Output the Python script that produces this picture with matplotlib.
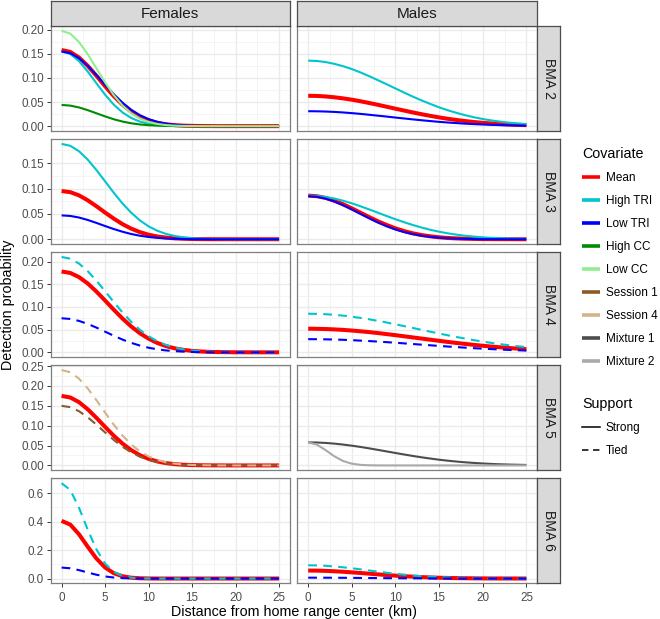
import matplotlib
matplotlib.use("Agg")
import matplotlib.pyplot as plt
from matplotlib.lines import Line2D
from matplotlib.ticker import MultipleLocator

plt.rcParams['font.family'] = ['Liberation Sans', 'DejaVu Sans']

# ---------------- data ----------------
DIST = list(range(26))  # km from home range center
SEXES = ['Females', 'Males']
BMAS = ['BMA 2', 'BMA 3', 'BMA 4', 'BMA 5', 'BMA 6']
COVARIATES = ['Mean', 'High TRI', 'Low TRI', 'High CC', 'Low CC',
              'Session 1', 'Session 4', 'Mixture 1', 'Mixture 2']
SUPPORTS = ['Strong', 'Tied']
X_TICKS = [0, 5, 10, 15, 20, 25]
Y_TICKS = [[0.00, 0.05, 0.10, 0.15, 0.20],
           [0.00, 0.05, 0.10, 0.15],
           [0.00, 0.05, 0.10, 0.15, 0.20],
           [0.00, 0.05, 0.10, 0.15, 0.20, 0.25],
           [0.0, 0.2, 0.4, 0.6]]
Y_TICK_LABELS = [['0.00', '0.05', '0.10', '0.15', '0.20'],
                 ['0.00', '0.05', '0.10', '0.15'],
                 ['0.00', '0.05', '0.10', '0.15', '0.20'],
                 ['0.00', '0.05', '0.10', '0.15', '0.20', '0.25'],
                 ['0.0', '0.2', '0.4', '0.6']]

# BMA 2
F2_MEAN = [0.158, 0.1541, 0.1425, 0.1253, 0.1046, 0.0828, 0.0624, 0.0446, 0.0302, 0.0194, 0.0119, 0.0069, 0.0038,
           0.0020, 0.0010, 0.0005, 0.0002, 0.0001, 0, 0, 0, 0, 0, 0, 0, 0]
F2_HIGH_TRI = [0.155, 0.1497, 0.1350, 0.1135, 0.0891, 0.0653, 0.0446, 0.0284, 0.0169, 0.0094, 0.0049, 0.0023, 0.0011,
               0.0004, 0.0002, 0.0001, 0, 0, 0, 0, 0, 0, 0, 0, 0, 0]
F2_LOW_TRI = [0.155, 0.1514, 0.1411, 0.1252, 0.1062, 0.0859, 0.0662, 0.0487, 0.0341, 0.0228, 0.0146, 0.0089, 0.0052,
              0.0029, 0.0015, 0.0008, 0.0004, 0.0002, 0.0001, 0, 0, 0, 0, 0, 0, 0]
F2_HIGH_CC = [0.044, 0.0426, 0.0388, 0.0332, 0.0267, 0.0202, 0.0143, 0.0095, 0.0059, 0.0035, 0.0019, 0.0010, 0.0005,
              0.0002, 0.0001, 0, 0, 0, 0, 0, 0, 0, 0, 0, 0, 0]
F2_LOW_CC = [0.198, 0.1919, 0.1746, 0.1495, 0.1202, 0.0907, 0.0644, 0.0428, 0.0267, 0.0158, 0.0087, 0.0045, 0.0022,
             0.0010, 0.0004, 0.0002, 0.0001, 0, 0, 0, 0, 0, 0, 0, 0, 0]
M2_MEAN = [0.063, 0.0627, 0.0616, 0.0599, 0.0576, 0.0549, 0.0516, 0.0480, 0.0442, 0.0402, 0.0362, 0.0323, 0.0284,
           0.0247, 0.0213, 0.0181, 0.0152, 0.0127, 0.0105, 0.0085, 0.0069, 0.0055, 0.0043, 0.0034, 0.0026, 0.0020]
M2_HIGH_TRI = [0.136, 0.1353, 0.1330, 0.1293, 0.1244, 0.1185, 0.1114, 0.1036, 0.0953, 0.0868, 0.0782, 0.0696, 0.0612,
               0.0533, 0.0460, 0.0390, 0.0329, 0.0275, 0.0226, 0.0184, 0.0148, 0.0118, 0.0093, 0.0072, 0.0056, 0.0043]
M2_LOW_TRI = [0.031, 0.0308, 0.0303, 0.0295, 0.0284, 0.0270, 0.0254, 0.0236, 0.0217, 0.0198, 0.0178, 0.0159, 0.0140,
              0.0122, 0.0105, 0.0089, 0.0075, 0.0063, 0.0051, 0.0042, 0.0034, 0.0027, 0.0021, 0.0017, 0.0013, 0.0010]
# BMA 3
F3_MEAN = [0.095, 0.0928, 0.0865, 0.0768, 0.0651, 0.0526, 0.0406, 0.0298, 0.0209, 0.0140, 0.0089, 0.0054, 0.0032,
           0.0017, 0.0009, 0.0005, 0.0002, 0.0001, 0, 0, 0, 0, 0, 0, 0, 0]
F3_HIGH_TRI = [0.188, 0.1842, 0.1735, 0.1570, 0.1365, 0.1141, 0.0916, 0.0705, 0.0523, 0.0372, 0.0254, 0.0167, 0.0105,
               0.0064, 0.0037, 0.0021, 0.0011, 0.0006, 0.0003, 0.0001, 0.0001, 0, 0, 0, 0, 0]
F3_LOW_TRI = [0.047, 0.0459, 0.0428, 0.0380, 0.0322, 0.0260, 0.0201, 0.0148, 0.0103, 0.0069, 0.0044, 0.0027, 0.0016,
              0.0009, 0.0005, 0.0002, 0.0001, 0, 0, 0, 0, 0, 0, 0, 0, 0]
M3_MEAN = [0.086, 0.0848, 0.0814, 0.0759, 0.0689, 0.0608, 0.0522, 0.0435, 0.0353, 0.0280, 0.0214, 0.0160, 0.0116,
           0.0082, 0.0057, 0.0038, 0.0025, 0.0016, 0.0010, 0.0006, 0.0003, 0.0002, 0.0001, 0.0001, 0, 0]
M3_HIGH_TRI = [0.086, 0.0853, 0.0833, 0.0802, 0.0759, 0.0708, 0.0649, 0.0587, 0.0522, 0.0457, 0.0394, 0.0335, 0.0280,
               0.0230, 0.0186, 0.0148, 0.0116, 0.0090, 0.0068, 0.0051, 0.0038, 0.0027, 0.0020, 0.0014, 0.0010, 0.0007]
M3_LOW_TRI = [0.085, 0.0837, 0.0801, 0.0744, 0.0670, 0.0587, 0.0498, 0.0411, 0.0328, 0.0255, 0.0192, 0.0141, 0.0100,
              0.0069, 0.0046, 0.0030, 0.0019, 0.0012, 0.0007, 0.0004, 0.0002, 0.0001, 0.0001, 0, 0, 0]
# BMA 4
F4_MEAN = [0.178, 0.1748, 0.1657, 0.1517, 0.1339, 0.1141, 0.0938, 0.0744, 0.0570, 0.0420, 0.0301, 0.0206, 0.0137,
           0.0088, 0.0054, 0.0032, 0.0019, 0.0010, 0.0006, 0.0003, 0.0001, 0.0001, 0, 0, 0, 0]
F4_HIGH_TRI = [0.210, 0.2062, 0.1955, 0.1789, 0.1579, 0.1346, 0.1107, 0.0878, 0.0672, 0.0496, 0.0355, 0.0244, 0.0162,
               0.0104, 0.0064, 0.0038, 0.0022, 0.0012, 0.0007, 0.0003, 0.0002, 0.0001, 0, 0, 0, 0]
F4_LOW_TRI = [0.075, 0.0735, 0.0692, 0.0626, 0.0545, 0.0455, 0.0365, 0.0281, 0.0209, 0.0149, 0.0101, 0.0067, 0.0042,
              0.0026, 0.0015, 0.0008, 0.0004, 0.0002, 0.0001, 0.0001, 0, 0, 0, 0, 0, 0]
M4_MEAN = [0.052, 0.0518, 0.0513, 0.0505, 0.0494, 0.0480, 0.0463, 0.0445, 0.0424, 0.0401, 0.0378, 0.0353, 0.0328,
           0.0303, 0.0278, 0.0253, 0.0229, 0.0206, 0.0185, 0.0164, 0.0145, 0.0127, 0.0111, 0.0096, 0.0082, 0.0070]
M4_HIGH_TRI = [0.085, 0.0847, 0.0839, 0.0826, 0.0808, 0.0785, 0.0757, 0.0727, 0.0693, 0.0656, 0.0617, 0.0577, 0.0536,
               0.0495, 0.0454, 0.0414, 0.0375, 0.0337, 0.0302, 0.0268, 0.0236, 0.0207, 0.0181, 0.0156, 0.0134, 0.0115]
M4_LOW_TRI = [0.029, 0.0289, 0.0286, 0.0282, 0.0276, 0.0268, 0.0258, 0.0248, 0.0236, 0.0224, 0.0211, 0.0197, 0.0183,
              0.0169, 0.0155, 0.0141, 0.0128, 0.0115, 0.0103, 0.0091, 0.0081, 0.0071, 0.0062, 0.0053, 0.0046, 0.0039]
# BMA 5
F5_MEAN = [0.175, 0.1710, 0.1593, 0.1414, 0.1199, 0.0970, 0.0747, 0.0550, 0.0385, 0.0257, 0.0165, 0.0100, 0.0058,
           0.0032, 0.0017, 0.0009, 0.0004, 0.0002, 0.0001, 0, 0, 0, 0, 0, 0, 0]
F5_SESSION1 = [0.150, 0.1466, 0.1365, 0.1212, 0.1028, 0.0831, 0.0641, 0.0471, 0.0330, 0.0221, 0.0141, 0.0086, 0.0050,
               0.0028, 0.0015, 0.0007, 0.0004, 0.0002, 0.0001, 0, 0, 0, 0, 0, 0, 0]
F5_SESSION4 = [0.240, 0.2345, 0.2184, 0.1939, 0.1644, 0.1330, 0.1025, 0.0754, 0.0528, 0.0353, 0.0226, 0.0138, 0.0080,
               0.0044, 0.0023, 0.0012, 0.0006, 0.0003, 0.0001, 0, 0, 0, 0, 0, 0, 0]
M5_MIXTURE1 = [0.058, 0.0577, 0.0566, 0.0549, 0.0525, 0.0497, 0.0465, 0.0429, 0.0391, 0.0352, 0.0313, 0.0275, 0.0238,
               0.0204, 0.0173, 0.0144, 0.0119, 0.0097, 0.0078, 0.0063, 0.0049, 0.0038, 0.0029, 0.0022, 0.0017, 0.0012]
M5_MIXTURE2 = [0.058, 0.0523, 0.0384, 0.0229, 0.0111, 0.0044, 0.0014, 0.0004, 0.0001, 0, 0, 0, 0,
               0, 0, 0, 0, 0, 0, 0, 0, 0, 0, 0, 0, 0]
# BMA 6
F6_MEAN = [0.405, 0.379, 0.311, 0.224, 0.141, 0.0774, 0.0375, 0.0159, 0.0059, 0.0019, 0.0005, 0, 0,
           0, 0, 0, 0, 0, 0, 0, 0, 0, 0, 0, 0, 0]
F6_HIGH_TRI = [0.670, 0.622, 0.498, 0.344, 0.205, 0.105, 0.0467, 0.0179, 0.0059, 0.0017, 0.0004, 0, 0,
               0, 0, 0, 0, 0, 0, 0, 0, 0, 0, 0, 0, 0]
F6_LOW_TRI = [0.077, 0.072, 0.059, 0.0425, 0.0267, 0.0147, 0.0071, 0.0030, 0.0011, 0.0004, 0.0001, 0, 0,
              0, 0, 0, 0, 0, 0, 0, 0, 0, 0, 0, 0, 0]
M6_MEAN = [0.056, 0.0554, 0.0538, 0.0511, 0.0475, 0.0434, 0.0388, 0.0340, 0.0291, 0.0245, 0.0202, 0.0163, 0.0129,
           0.0100, 0.0076, 0.0056, 0.0041, 0.0029, 0.0021, 0.0014, 0.0009, 0.0006, 0.0004, 0.0003, 0.0002, 0.0001]
M6_HIGH_TRI = [0.093, 0.0921, 0.0893, 0.0848, 0.0790, 0.0721, 0.0644, 0.0565, 0.0484, 0.0406, 0.0335, 0.0271, 0.0214,
               0.0166, 0.0126, 0.0094, 0.0068, 0.0049, 0.0034, 0.0023, 0.0016, 0.0010, 0.0007, 0.0004, 0.0003, 0.0002]
M6_LOW_TRI = [0.006, 0.0059, 0.0058, 0.0055, 0.0051, 0.0047, 0.0042, 0.0036, 0.0031, 0.0026, 0.0022, 0.0017, 0.0014,
              0.0011, 0.0008, 0.0006, 0.0004, 0.0003, 0.0002, 0.0002, 0.0001, 0.0001, 0, 0, 0, 0]

# table: (bma, sex) -> list of (covariate, support, values)
CURVES = {
    ('BMA 2', 'Females'): [('Mean', 'Strong', F2_MEAN), ('High TRI', 'Strong', F2_HIGH_TRI),
                           ('Low TRI', 'Strong', F2_LOW_TRI), ('High CC', 'Strong', F2_HIGH_CC),
                           ('Low CC', 'Strong', F2_LOW_CC)],
    ('BMA 2', 'Males'): [('Mean', 'Strong', M2_MEAN), ('High TRI', 'Strong', M2_HIGH_TRI),
                         ('Low TRI', 'Strong', M2_LOW_TRI)],
    ('BMA 3', 'Females'): [('Mean', 'Strong', F3_MEAN), ('High TRI', 'Strong', F3_HIGH_TRI),
                           ('Low TRI', 'Strong', F3_LOW_TRI)],
    ('BMA 3', 'Males'): [('Mean', 'Strong', M3_MEAN), ('High TRI', 'Strong', M3_HIGH_TRI),
                         ('Low TRI', 'Strong', M3_LOW_TRI)],
    ('BMA 4', 'Females'): [('Mean', 'Strong', F4_MEAN), ('High TRI', 'Tied', F4_HIGH_TRI),
                           ('Low TRI', 'Tied', F4_LOW_TRI)],
    ('BMA 4', 'Males'): [('Mean', 'Strong', M4_MEAN), ('High TRI', 'Tied', M4_HIGH_TRI),
                         ('Low TRI', 'Tied', M4_LOW_TRI)],
    ('BMA 5', 'Females'): [('Mean', 'Strong', F5_MEAN), ('Session 1', 'Tied', F5_SESSION1),
                           ('Session 4', 'Tied', F5_SESSION4)],
    ('BMA 5', 'Males'): [('Mixture 1', 'Strong', M5_MIXTURE1), ('Mixture 2', 'Strong', M5_MIXTURE2)],
    ('BMA 6', 'Females'): [('Mean', 'Strong', F6_MEAN), ('High TRI', 'Tied', F6_HIGH_TRI),
                           ('Low TRI', 'Tied', F6_LOW_TRI)],
    ('BMA 6', 'Males'): [('Mean', 'Strong', M6_MEAN), ('High TRI', 'Tied', M6_HIGH_TRI),
                         ('Low TRI', 'Tied', M6_LOW_TRI)],
}
for key, items in CURVES.items():
    for c, s, v in items:
        assert len(v) == len(DIST), (key, c, len(v))

# ---------------- style ----------------
COLORS = {'Mean': '#FF0000', 'High TRI': '#00C5CD', 'Low TRI': '#0000FF', 'High CC': '#008B00',
          'Low CC': '#90EE90', 'Session 1': '#8B5A2B', 'Session 4': '#D2B48C',
          'Mixture 1': '#4D4D4D', 'Mixture 2': '#AAAAAA'}
LINESTYLES = {'Strong': '-', 'Tied': (0, (4.2, 3.0))}

W, H = 660, 619
fig = plt.figure(figsize=(W / 100, H / 100), dpi=100)


def box(x0, y0, x1, y1):
    return [x0 / W, 1 - y1 / H, (x1 - x0) / W, (y1 - y0) / H]


COL_X = {'Females': (50.7, 290.0), 'Males': (297.3, 537.3)}
ROW_TOP, ROW_H, ROW_GAP = 26.0, 104.9, 8.2
STRIP_COLOR = '#D9D9D9'
BORDER = '#7F7F7F'
STRIP_BORDER = '#4D4D4D'
TICK_COLOR = '#333333'
LABEL_COLOR = '#4D4D4D'

for r, bma in enumerate(BMAS):
    y0 = ROW_TOP + r * (ROW_H + ROW_GAP)
    y1 = y0 + ROW_H
    row_max = max(max(v) for sex in SEXES for _, _, v in CURVES[(bma, sex)])
    ylim = (-0.05 * row_max, row_max * 1.05)
    for sex in SEXES:
        x0, x1 = COL_X[sex]
        ax = fig.add_axes(box(x0, y0, x1, y1))
        for cov, sup, vals in CURVES[(bma, sex)]:
            lw = 2.9 if cov == 'Mean' else 1.5
            ax.plot(DIST, vals, color=COLORS[cov], lw=lw, linestyle=LINESTYLES[sup],
                    solid_capstyle='butt', dash_capstyle='butt', zorder=3)
        ax.set_xlim(-1.25, 26.25)
        ax.set_ylim(*ylim)
        ax.set_xticks(X_TICKS)
        ax.xaxis.set_minor_locator(MultipleLocator(2.5))
        ax.set_yticks(Y_TICKS[r])
        step = Y_TICKS[r][1] - Y_TICKS[r][0]
        ax.yaxis.set_minor_locator(MultipleLocator(step / 2))
        ax.grid(True, which='major', color='#EBEBEB', lw=1.0, zorder=0)
        ax.grid(True, which='minor', color='#F2F2F2', lw=0.6, zorder=0)
        ax.set_axisbelow(True)
        for sp in ax.spines.values():
            sp.set_color(BORDER)
            sp.set_linewidth(0.9)
        ax.tick_params(which='minor', length=0)
        ax.tick_params(which='major', direction='out', length=3, width=0.7, color=TICK_COLOR,
                       labelsize=8.4, labelcolor=LABEL_COLOR, pad=2)
        if sex == 'Females':
            ax.set_yticklabels(Y_TICK_LABELS[r])
        else:
            ax.tick_params(axis='y', left=False, labelleft=False)
        if r == len(BMAS) - 1:
            ax.set_xticklabels([str(t) for t in X_TICKS])
            ax.tick_params(axis='x', pad=3)
        else:
            ax.tick_params(axis='x', bottom=False, labelbottom=False)
    # right strip
    sax = fig.add_axes(box(537.3, y0, 560.0, y1))
    sax.set_facecolor(STRIP_COLOR)
    sax.set_xticks([])
    sax.set_yticks([])
    for sp in sax.spines.values():
        sp.set_color(STRIP_BORDER)
        sp.set_linewidth(0.9)
    sax.text(0.5, 0.5, bma, rotation=-90, ha='center', va='center', fontsize=10,
             color='#1A1A1A', transform=sax.transAxes)

# top strips
for sex in SEXES:
    x0, x1 = COL_X[sex]
    tax = fig.add_axes(box(x0, 0.5, x1, 26.0))
    tax.set_facecolor(STRIP_COLOR)
    tax.set_xticks([])
    tax.set_yticks([])
    for sp in tax.spines.values():
        sp.set_color(STRIP_BORDER)
        sp.set_linewidth(0.9)
    tax.text(0.5, 0.48, sex, ha='center', va='center', fontsize=11, color='#1A1A1A',
             transform=tax.transAxes)

# axis titles
fig.text(294 / W, 1 - 612 / H, 'Distance from home range center (km)', ha='center', va='center',
         fontsize=10.3, color='black')
fig.text(8 / W, 1 - 304.6 / H, 'Detection probability', ha='center', va='center', rotation=90,
         fontsize=10.3, color='black')

# legends
cov_handles = [Line2D([], [], color=COLORS[c], lw=2.6, solid_capstyle='butt') for c in COVARIATES]
leg1 = fig.legend(cov_handles, COVARIATES, title='Covariate', loc='upper left',
                  bbox_to_anchor=(582 / W, 1 - 147 / H), frameon=False, fontsize=8.5,
                  title_fontsize=10.3, handlelength=1.55, handletextpad=0.45, labelspacing=0.93,
                  alignment='left', borderaxespad=0, borderpad=0)
sup_handles = [Line2D([], [], color='black', lw=1.1, linestyle=LINESTYLES[s]) for s in SUPPORTS]
leg2 = fig.legend(sup_handles, SUPPORTS, title='Support', loc='upper left',
                  bbox_to_anchor=(582 / W, 1 - 397 / H), frameon=False, fontsize=8.5,
                  title_fontsize=10.3, handlelength=1.55, handletextpad=0.45, labelspacing=0.93,
                  alignment='left', borderaxespad=0, borderpad=0)

fig.savefig('out.png', dpi=100)
